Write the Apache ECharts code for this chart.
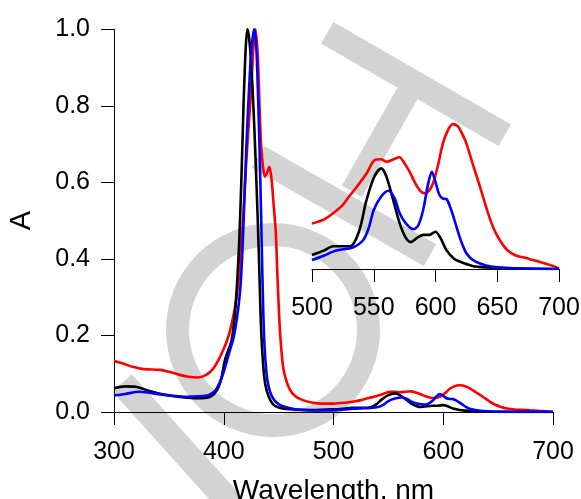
<!DOCTYPE html>
<html>
<head>
<meta charset="utf-8">
<script src="https://cdn.jsdelivr.net/npm/echarts@6/dist/echarts.min.js"></script>
<style>html,body{margin:0;padding:0;background:#fff;}#c{width:581px;height:499px;}</style>
</head>
<body>
<div id="c"></div>
<script>
// ---- data (wavelength in nm, absorbance) ----
const wlBlack  = [300,310,320,330,340,350,360,370,380,388,394,398,401,404,407,410,412,414,416,418,420,421.5,423,425,427,429,431,432.5,434,436,438,441,445,450,460,480,500,510,517,525,531,538,544,550,556,560,565,571,576,580,585,590,595,600,604,609,615,620,630,640,660,700];
const absBlack = [0.062,0.067,0.066,0.057,0.049,0.043,0.039,0.037,0.036,0.040,0.058,0.090,0.135,0.160,0.185,0.25,0.33,0.44,0.60,0.80,0.95,1.0,0.98,0.91,0.80,0.66,0.50,0.36,0.22,0.12,0.07,0.04,0.02,0.012,0.007,0.005,0.0068,0.009,0.011,0.011,0.011,0.018,0.033,0.044,0.0486,0.045,0.035,0.022,0.015,0.013,0.015,0.0165,0.0165,0.018,0.015,0.009,0.005,0.0035,0.0015,0.0008,0.0003,0.0];

const wlBlue   = [300,310,323,333,342,355,366,378,386,392,396,400,403,406,409,412,415,417,419,421,423,425,427.5,429.5,431,432.5,434,435.5,437,439,441,444,448,454,465,480,500,510,517,525,533,541.5,546,550,556,562,567,571,576,582,586,590,594,597,600,603,606,609,613,617,621,625,630,636,645,660,700];
const absBlue  = [0.043,0.047,0.053,0.050,0.046,0.042,0.040,0.041,0.044,0.055,0.075,0.105,0.135,0.165,0.195,0.245,0.32,0.42,0.57,0.72,0.84,0.94,1.0,0.96,0.85,0.70,0.52,0.32,0.18,0.10,0.065,0.04,0.025,0.015,0.007,0.004,0.0043,0.0065,0.0084,0.0095,0.0103,0.014,0.020,0.0285,0.035,0.0378,0.034,0.0269,0.022,0.0192,0.021,0.0285,0.041,0.047,0.042,0.036,0.034,0.0337,0.028,0.0204,0.013,0.0076,0.0045,0.0027,0.0012,0.0005,0.0];

const wlRed    = [300,310,317,327,342,350,360,368,376,384,390,395,400,405,410,413,415,417.5,420,422.5,424.5,427,429,431,432.5,434,436,437.6,439.5,441.5,443.5,445.5,447.4,449,450.5,452,454,456,460,465,472,480,490,500,510,517,525,530,536,544,551,556,560.5,566,570.7,575,579,584,588,591.5,595,598,602,606,610,614,618,621,625,630,636,642,647,652,658,665,672,679,688,695,700];
const absRed   = [0.133,0.125,0.118,0.112,0.110,0.105,0.097,0.092,0.090,0.097,0.112,0.135,0.165,0.205,0.27,0.33,0.41,0.50,0.63,0.74,0.82,0.95,1.0,0.93,0.81,0.70,0.635,0.615,0.625,0.641,0.61,0.54,0.47,0.35,0.25,0.18,0.12,0.092,0.06,0.042,0.031,0.025,0.022,0.022,0.024,0.0269,0.031,0.035,0.0395,0.046,0.0527,0.053,0.0518,0.053,0.054,0.051,0.047,0.041,0.0375,0.0366,0.038,0.0414,0.05,0.0607,0.067,0.070,0.069,0.066,0.0607,0.051,0.0398,0.028,0.0197,0.014,0.0092,0.0065,0.0055,0.0043,0.0028,0.0015,0.0003];

const zip = (a,b) => a.map((x,i)=>[x,b[i]]);
const FONT = 'Liberation Sans, Arial, Helvetica, sans-serif';
const GRAY = '#d3d3d3';

function wmRect(cx, cy, len, w, angDeg){
  return {type:'rect', x:cx, y:cy, rotation:-angDeg*Math.PI/180, z:-10,
    shape:{x:-len/2, y:-w/2, width:len, height:w}, style:{fill:GRAY}, silent:true};
}

const chart = echarts.init(document.getElementById('c'), null, {renderer:'canvas'});
const axisCommon = {
  axisLine:{show:true, lineStyle:{color:'#000', width:1}},
  axisTick:{show:true, inside:false, length:13, lineStyle:{color:'#000', width:1}},
  splitLine:{show:false},
};
function mkSeries(name, wl, ab, color, idx){
  return {name, type:'line', xAxisIndex:idx, yAxisIndex:idx, data:zip(wl,ab), showSymbol:false,
    smooth:0.3, lineStyle:{color, width:2.6}, itemStyle:{color}, z:3};
}
chart.setOption({
  animation:false,
  backgroundColor:'#fff',
  graphic:[
    wmRect(416,84,205,25,30),
    wmRect(381,140,118,23,119.6),
    wmRect(344,206,198,25,29.7),
    wmRect(177,444,164,26,48),
    {type:'ring', z:-10, silent:true, shape:{cx:273, cy:330, r:107, r0:84}, style:{fill:GRAY}}
  ],
  grid:[
    {left:114, right:28, top:29.3, bottom:87, containLabel:false, outerBoundsMode:'none'},
    {left:312, right:22, top:103.4, bottom:230, containLabel:false, outerBoundsMode:'none'}
  ],
  xAxis:[
    Object.assign({type:'value', gridIndex:0, min:300, max:700, interval:100,
      name:'Wavelength, nm', nameLocation:'middle', nameGap:65,
      nameTextStyle:{fontSize:28, fontFamily:FONT, color:'#000'},
      axisLabel:{fontSize:25, fontFamily:FONT, color:'#000', margin:28}}, axisCommon),
    Object.assign({type:'value', gridIndex:1, min:500, max:700, interval:50,
      axisLabel:{fontSize:25, fontFamily:FONT, color:'#000', margin:27}}, axisCommon)
  ],
  yAxis:[
    Object.assign({type:'value', gridIndex:0, min:0, max:1.0, interval:0.2,
      name:'A', nameLocation:'middle', nameGap:78, nameRotate:90,
      nameTextStyle:{fontSize:29, fontFamily:FONT, color:'#000'},
      axisLabel:{fontSize:25, fontFamily:FONT, color:'#000', margin:24,
        formatter:v=>v.toFixed(1)}}, axisCommon),
    {type:'value', gridIndex:1, min:0, max:0.08, show:false}
  ],
  series:[
    mkSeries('red', wlRed, absRed, '#ff0000', 0),
    mkSeries('black', wlBlack, absBlack, '#000000', 0),
    mkSeries('blue', wlBlue, absBlue, '#0000ff', 0),
    mkSeries('red-inset', wlRed.filter(w=>w>=500), absRed.filter((v,i)=>wlRed[i]>=500), '#ff0000', 1),
    mkSeries('black-inset', wlBlack.filter(w=>w>=500), absBlack.filter((v,i)=>wlBlack[i]>=500), '#000000', 1),
    mkSeries('blue-inset', wlBlue.filter(w=>w>=500), absBlue.filter((v,i)=>wlBlue[i]>=500), '#0000ff', 1)
  ]
});
</script>
</body>
</html>
